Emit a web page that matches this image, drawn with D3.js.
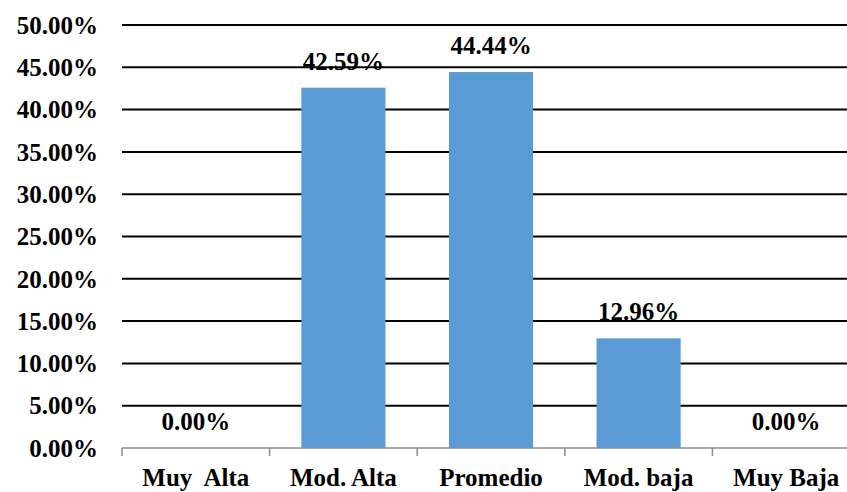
<!DOCTYPE html>
<html>
<head>
<meta charset="utf-8">
<script src="https://cdn.jsdelivr.net/npm/d3@7"></script>
<style>
  body { margin: 0; background: #fff; }
  svg text { font-family: "Liberation Serif", "Times New Roman", serif; font-weight: bold; white-space: pre; }
</style>
</head>
<body>
<svg id="chart" width="847" height="492"></svg>
<script>
// data
var categories = ["Muy  Alta", "Mod. Alta", "Promedio", "Mod. baja", "Muy Baja"];
var values = [0, 42.59, 44.44, 12.96, 0];
var yTicks = [0, 5, 10, 15, 20, 25, 30, 35, 40, 45, 50];

var svg = d3.select("#chart");
var plotLeft = 122, plotRight = 860, plotTop = 25, plotBottom = 448;

var x = d3.scaleBand()
    .domain(categories)
    .range([plotLeft, plotRight])
    .paddingInner(0.43)
    .paddingOuter(0.215);

var y = d3.scaleLinear()
    .domain([0, 50])
    .range([plotBottom, plotTop]);

// gridlines
svg.append("g")
  .selectAll("line")
  .data(yTicks.filter(function(d) { return d > 0; }))
  .enter().append("line")
    .attr("x1", plotLeft)
    .attr("x2", 847)
    .attr("y1", function(d) { return y(d); })
    .attr("y2", function(d) { return y(d); })
    .attr("stroke", "#000")
    .attr("stroke-width", 2);

// y labels
svg.append("g")
  .selectAll("text")
  .data(yTicks)
  .enter().append("text")
    .attr("x", 98)
    .attr("y", function(d) { return y(d); })
    .attr("dy", "0.35em")
    .attr("text-anchor", "end")
    .attr("font-size", 25)
    .text(function(d) { return d.toFixed(2) + "%"; });

// bars
svg.append("g")
  .selectAll("rect")
  .data(values)
  .enter().append("rect")
    .attr("x", function(d, i) { return x(categories[i]); })
    .attr("y", function(d) { return y(d); })
    .attr("width", x.bandwidth())
    .attr("height", function(d) { return plotBottom - y(d); })
    .attr("fill", "#5B9BD5");

// x axis
var step = x.step();
var xAxis = svg.append("g");
xAxis.append("line")
    .attr("x1", plotLeft).attr("x2", plotRight)
    .attr("y1", plotBottom).attr("y2", plotBottom)
    .attr("stroke", "#8c8c8c")
    .attr("stroke-width", 1.5);
xAxis.selectAll(".tick")
  .data(d3.range(categories.length + 1))
  .enter().append("line")
    .attr("x1", function(i) { return plotLeft + i * step; })
    .attr("x2", function(i) { return plotLeft + i * step; })
    .attr("y1", plotBottom)
    .attr("y2", plotBottom + 8)
    .attr("stroke", "#8c8c8c")
    .attr("stroke-width", 1.5);

xAxis.selectAll("text")
  .data(categories)
  .enter().append("text")
    .attr("x", function(d) { return x(d) + x.bandwidth() / 2; })
    .attr("y", 486)
    .attr("text-anchor", "middle")
    .attr("font-size", 25)
    .text(function(d) { return d; });

// value labels
svg.append("g")
  .selectAll("text")
  .data(values)
  .enter().append("text")
    .attr("x", function(d, i) { return x(categories[i]) + x.bandwidth() / 2; })
    .attr("y", function(d) { return y(d) - 18; })
    .attr("text-anchor", "middle")
    .attr("font-size", 25)
    .text(function(d) { return d.toFixed(2) + "%"; });
</script>
</body>
</html>
